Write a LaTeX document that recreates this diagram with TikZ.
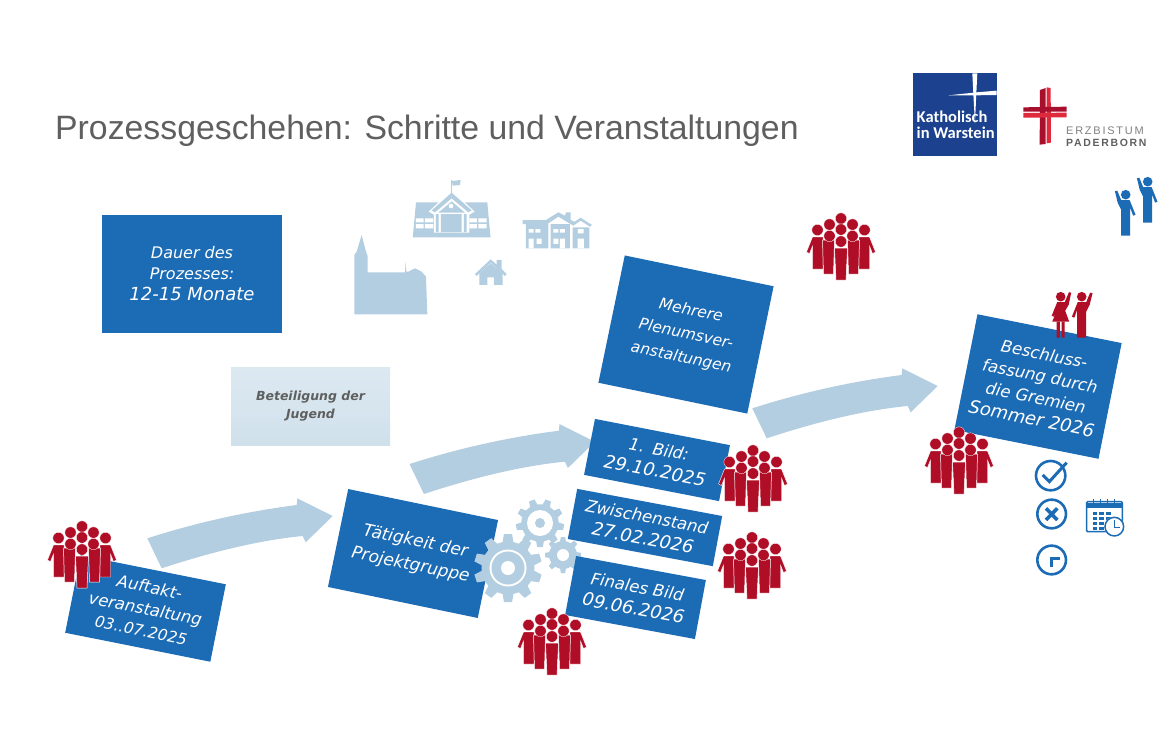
\documentclass[tikz,border=0pt]{standalone}
\usepackage{fontspec}
\setmainfont{Liberation Sans}
\newfontfamily\handfont{DejaVu Sans}
\newfontfamily\logofont{Carlito}
\newfontfamily\erzfont[LetterSpace=16]{Liberation Sans}

\definecolor{boxblue}{HTML}{1C6BB5}
\definecolor{logoblue}{HTML}{1B418F}
\definecolor{palecol}{HTML}{B3CEE0}
\definecolor{figred}{HTML}{B00D26}
\definecolor{crossdark}{HTML}{A80F2D}
\definecolor{crossred}{HTML}{DF2A3D}
\definecolor{titlegray}{HTML}{5F5F5F}

\newcommand{\wideline}[1]{{\fontsize{18}{22}\selectfont #1}}

\tikzset{
	stepbox/.style 2 args={fill=boxblue, text=white, align=center, inner sep=0pt,
		font=\handfont\itshape\fontsize{16.5}{22}\selectfont, minimum width=#1pt, minimum height=#2pt},
	zoomed/.style={x=0.3333pt, y=-0.3333pt},
	crowdfig/.pic={
		\foreach \s in {-1,1}{
			\fill[figred, draw=white, line width=0.4pt] (\s*18,24) -- (\s*28.5,24) -- (\s*34.5,39) -- (\s*31.5,40.5) -- (\s*28.5,33) -- (\s*28.5,56) -- (\s*18,56) -- cycle;
		}
		\foreach \s in {-1,1}{
			\fill[figred, draw=white, line width=0.5pt] (\s*6.5,27) -- (\s*18.5,27) -- (\s*17.5,61) -- (\s*7.5,61) -- cycle;
		}
		\fill[figred, draw=white, line width=0.5pt] (-6.5,35) -- (6.5,35) -- (5,67) -- (-5,67) -- cycle;
		\foreach \x/\y in {0/5.5,-11.5/11.5,11.5/11.5,-23.5/17,23.5/17,0/16.5,-11.5/23,11.5/23,0/28.5}{
			\fill[figred, draw=white, line width=0.3pt] (\x,\y) circle (5.7);
		}
	},
	wavefig/.pic={
		\fill[pic actions] (0,0) circle (4.8);
		\fill[pic actions] (-10.8,-3.5) -- (-8.4,-4) -- (-4.5,5.5) -- (4,5.5) -- (9.8,20) -- (7.4,21) -- (4.5,13) -- (4.5,41) -- (-4.5,41) -- (-4.5,15) -- (-8,8) -- cycle;
	},
	ladyfig/.pic={
		\fill[pic actions] (0,0) circle (4.8);
		\fill[pic actions] (10.5,-4) -- (8.2,-4.5) -- (4,5.5) -- (-3.5,5.5) -- (-9,19) -- (-7,20) -- (-4,14) -- (-8.5,25) -- (8.5,25) -- (4.5,14) -- (8,8) -- cycle;
		\fill[pic actions] (-4,25) rectangle (-0.8,41) (0.8,25) rectangle (4,41);
	},
	blockarrow/.pic={
		\fill[palecol] (0,0) .. controls (50,-16) and (100,-27) .. (149.4,-33.3) -- (150,-40) -- (185.4,-22.3) -- (158.4,4) -- (155.4,-2.3) .. controls (110,2) and (60,15) .. (14.4,30) -- cycle;
	}
}

% x, y, outer radius, teeth, white ring radius, hole radius
\newcommand{\gearfig}[6]{
	\begin{scope}[shift={(#1,#2)}]
		\fill[palecol] (0,0) circle (#3*0.78);
		\foreach \i in {1,...,#4}{
			\fill[palecol, rotate=\i*360/#4] (-#3*0.17,#3*0.7) -- (#3*0.17,#3*0.7) -- (#3*0.12,#3) -- (-#3*0.12,#3) -- cycle;
		}
		\fill[white] (0,0) circle (#5);
		\fill[palecol] (0,0) circle (#6);
	\end{scope}
}

\begin{document}
\begin{tikzpicture}[x=1pt, y=-1pt]
\useasboundingbox (0,0) rectangle (1176,740);

\node[anchor=west, text=titlegray, font=\fontsize{33.8}{36}\selectfont, inner sep=0pt] (title) at (55,131) {Prozessgeschehen: Schritte und Veranstaltungen};

% logos
\node[fill=logoblue, minimum width=84pt, minimum height=83pt, inner sep=0pt] (warstein) at (955,114.5) {};
\begin{scope}[shift={(880,60)}, zoomed]
	\fill[white] (277,40) -- (292,40) -- (288,120) -- (285,190) -- (281,120) -- cycle;
	\fill[white] (205,106) -- (290,97) -- (350,92) -- (350,105) -- (285,106) -- cycle;
	\fill[crossdark] (480,90) -- (497,84) -- (497,252) -- (479,254) -- cycle;
	\fill[crossred] (500,82) -- (512,84) -- (513,248) -- (500,250) -- cycle;
	\fill[crossdark] (430,142) -- (560,140) -- (560,155) -- (430,155) -- cycle;
	\fill[crossred] (430,159) -- (560,158) -- (560,172) -- (430,173) -- cycle;
\end{scope}
\node[anchor=base west, text=white, align=left, inner sep=0pt, font=\logofont\bfseries\fontsize{16.5}{15.5}\selectfont] (warsteintext) at (916.5,138) {Katholisch\\in Warstein};
\node[anchor=base west, text=gray, inner sep=0pt, font=\erzfont\fontsize{11}{11}\selectfont] (erz) at (1066,134.5) {ERZBISTUM};
\node[anchor=base west, text=titlegray, inner sep=0pt, font=\erzfont\bfseries\fontsize{10.5}{11}\selectfont] (pader) at (1066,146.5) {PADERBORN};

% buildings
\begin{scope}[shift={(340,170)}, zoomed]
	% church
	\fill[palecol] (43,433) -- (43,255) -- (50,245) -- (65,195) -- (78,245) -- (83,258) -- (83,307) -- (195,307) -- (197,275) -- (199,305) -- (205,305) -- (225,295) -- (245,305) -- (258,320) -- (262,433) -- cycle;
	% school
	\fill[palecol] (228,97) -- (442,97) -- (450,185) -- (452,202) -- (218,202) -- (220,185) -- cycle;
	\foreach \x in {228,388}{
		\fill[white] (\x,145) rectangle ++(23,12) (\x+27,145) rectangle ++(25,12) (\x,162) rectangle ++(23,13) (\x+27,162) rectangle ++(25,13);
	}
	\fill[white] (266,125) -- (335,60) -- (404,125) -- (388,134) -- (388,188) -- (282,188) -- (282,134) -- cycle;
	\fill[palecol] (275,121) -- (335,68) -- (395,121) -- (385,127) -- (335,85) -- (285,127) -- cycle;
	\fill[palecol] (295,128) -- (335,94) -- (375,128) -- cycle;
	\fill[white] (333,108) circle (7);
	\fill[palecol] (303,132) rectangle (365,186) (288,132) rectangle (296,186) (372,132) rectangle (380,186);
	\draw[palecol, line width=0.8pt] (333,68) -- (333,30);
	\fill[palecol] (336,33) -- (362,30) -- (360,45) -- (338,47) -- cycle;
	% row houses
	\fill[palecol] (558,160) rectangle (625,235) (632,162) rectangle (690,235) (698,172) rectangle (748,235);
	\fill[palecol] (548,150) -- (618,150) -- (655,127) -- (675,137) -- (678,127) -- (692,127) -- (692,150) -- (704,155) -- (722,143) -- (756,165) -- (750,170) -- (722,152) -- (700,167) -- (655,140) -- (622,162) -- (548,162) -- cycle;
	\fill[white] (566,177) rectangle ++(15,11) (586,177) rectangle ++(15,11) (590,206) rectangle ++(15,16) (566,206) rectangle ++(15,29);
	\fill[white] (640,177) rectangle ++(15,11) (660,177) rectangle ++(15,11) (640,206) rectangle ++(15,16) (660,206) rectangle ++(15,29);
	\fill[white] (714,177) rectangle ++(17,13) (713,206) rectangle ++(19,29);
	% small house
	\fill[palecol] (418,310) -- (452,280) -- (488,310) -- (488,345) -- (462,345) -- (462,322) -- (442,322) -- (442,345) -- (418,345) -- cycle;
	\fill[palecol] (405,312) -- (452,268) -- (470,284) -- (470,270) -- (485,270) -- (485,297) -- (500,312) -- (495,318) -- (452,278) -- (410,318) -- cycle;
\end{scope}

% plain boxes
\node[stepbox={180}{118}, font=\handfont\itshape\fontsize{16}{21}\selectfont] (dauer) at (192,274) {Dauer des\\Prozesses:\\\wideline{12-15 Monate}};
\node[top color=palecol!45, bottom color=palecol!62, text=titlegray, align=center, inner sep=0pt, minimum width=159pt, minimum height=78pt, font=\handfont\itshape\bfseries\fontsize{12.5}{18}\selectfont] (jugend) at (310.5,406) {Beteiligung der\\Jugend};

% arrows
\foreach \x/\y in {147.3/538.3,409.5/464,752.3/408.3}{
	\pic at (\x,\y) {blockarrow};
}

% tilted boxes
\node[stepbox={148}{79}, rotate=-11.3] (auftakt) at (145.5,608.5) {Auftakt-\\veranstaltung\\{\fontsize{15.5}{22}\selectfont 03..07.2025}};
\node[stepbox={153}{100}, rotate=-11.7, font=\handfont\itshape\fontsize{17}{24}\selectfont] (projekt) at (413,553.5) {Tätigkeit der\\Projektgruppe};

\gearfig{540}{523}{24}{9}{13}{5}
\gearfig{563}{555}{18}{8}{6}{0}
\gearfig{508}{568}{34}{10}{18.5}{16.5}
\fill[white] (508,568) circle (7);

\node[stepbox={137.5}{57}, rotate=-11] (bild) at (657,460) {1.\enspace Bild:\\\wideline{29.10.2025}};
\node[stepbox={147.5}{51}, rotate=-10.6] (zwischen) at (645,527.5) {Zwischenstand\\\wideline{27.02.2026}};
\node[stepbox={132}{60}, rotate=-10.5] (finale) at (635.5,597.5) {Finales Bild\\\wideline{09.06.2026}};
\node[stepbox={152}{130}, rotate=-11.7, font=\handfont\itshape\fontsize{15.5}{24}\selectfont] (plenum) at (686,334.5) {Mehrere\\Plenumsver-\\anstaltungen};
\node[stepbox={147}{118}, rotate=-11.3] (beschluss) at (1038,386.5) {Beschluss-\\fassung durch\\die Gremien\\\wideline{Sommer 2026}};

% people
\foreach \x/\y in {82/521,552/608,753/445,752/532,841/213,959/427}{
	\pic at (\x,\y) {crowdfig};
}
\pic[fill=boxblue] at (1125.7,194.7) {wavefig};
\pic[fill=boxblue] at (1147.7,181.7) {wavefig};
\pic[fill=figred] at (1060.7,296.7) {ladyfig};
\pic[fill=figred, xscale=-1] at (1081.7,296.7) {wavefig};

% status icons
\begin{scope}[shift={(920,280)}, zoomed, draw=boxblue, line width=2.6pt]
	\draw[boxblue] (392,587) circle (44);
	\draw[boxblue, line width=3pt] (368,585) -- (388,605) -- (440,548);
	\draw[boxblue] (395,702) circle (43);
	\draw[boxblue, line width=3.6pt] (378,685) -- (412,720) (412,685) -- (378,720);
	\draw[boxblue] (395,840) circle (43);
	\draw[boxblue, line width=3pt] (395,862) -- (395,835) -- (420,835);
	% calendar
	\draw[boxblue, line width=1.5pt, rounded corners=1pt] (500,665) rectangle (607,755);
	\fill[boxblue] (500,670) rectangle (607,684);
	\foreach \x in {520,541,562,583}{
		\draw[boxblue, line width=1pt] (\x,658) -- (\x,672);
	}
	\foreach \x in {518,538,558}{
		\foreach \y in {697,712,727,742}{
			\fill[boxblue] (\x,\y) rectangle ++(14,9);
		}
	}
	\fill[white] (583,740) circle (30);
	\draw[boxblue, line width=1.5pt] (583,740) circle (28);
	\draw[boxblue, line width=1.2pt] (583,720) -- (583,742) -- (600,742);
\end{scope}

\end{tikzpicture}
\end{document}
